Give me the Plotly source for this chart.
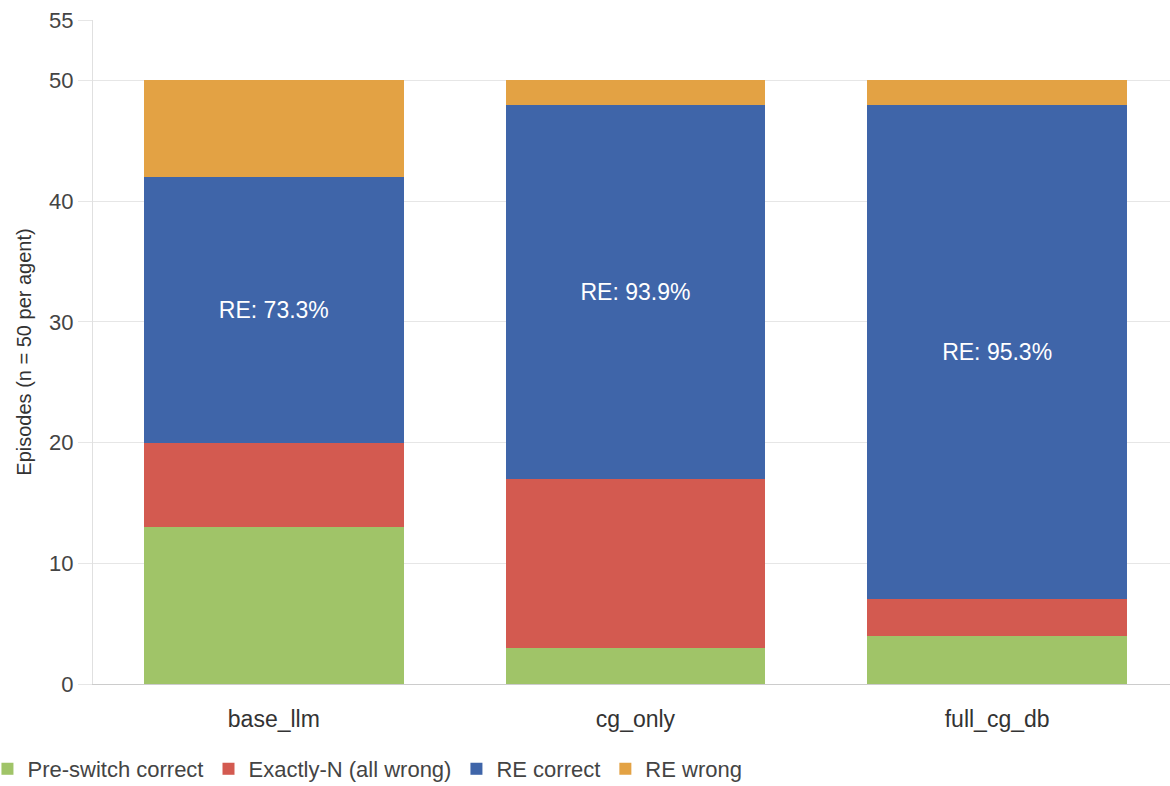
import plotly.graph_objects as go

categories = ["base_llm", "cg_only", "full_cg_db"]
pre_switch = [13, 3, 4]
exactly_n = [7, 14, 3]
re_correct = [22, 31, 41]
re_wrong = [8, 2, 2]
re_labels = ["RE: 73.3%", "RE: 93.9%", "RE: 95.3%"]
y_ticks = [0, 10, 20, 30, 40, 50, 55]

colors = {
    "Pre-switch correct": "#a0c468",
    "Exactly-N (all wrong)": "#d35a50",
    "RE correct": "#3f65a9",
    "RE wrong": "#e3a244",
}
FONT = "Liberation Sans, Arial, Helvetica, sans-serif"

fig = go.Figure()
fig.add_trace(go.Bar(x=categories, y=pre_switch, name="Pre-switch correct",
                     marker=dict(color=colors["Pre-switch correct"], line_width=0)))
fig.add_trace(go.Bar(x=categories, y=exactly_n, name="Exactly-N (all wrong)",
                     marker=dict(color=colors["Exactly-N (all wrong)"], line_width=0)))
fig.add_trace(go.Bar(x=categories, y=re_correct, name="RE correct",
                     marker=dict(color=colors["RE correct"], line_width=0),
                     text=re_labels, textposition="inside", insidetextanchor="middle",
                     textfont=dict(color="white", size=23, family=FONT),
                     textangle=0))
fig.add_trace(go.Bar(x=categories, y=re_wrong, name="RE wrong",
                     marker=dict(color=colors["RE wrong"], line_width=0)))

fig.update_layout(
    barmode="stack",
    bargap=0.282,
    width=1170, height=786,
    margin=dict(l=93, r=0, t=20, b=102, autoexpand=False),
    plot_bgcolor="white", paper_bgcolor="white",
    font=dict(family=FONT, color="#444", size=22),
    showlegend=True,
    legend=dict(orientation="h", x=-0.098, xanchor="left", y=-0.128, yanchor="middle",
                font=dict(size=22, color="#444"), traceorder="normal",
                itemwidth=30, tracegroupgap=0),
    uniformtext=dict(mode=False),
)
fig.update_yaxes(
    range=[0, 55], tickvals=y_ticks, showgrid=True, gridcolor="#e6e6e6", gridwidth=1,
    zeroline=False, showline=True, linecolor="#e0e0e0", ticks="outside", ticklen=14,
    tickcolor="#e6e6e6", tickfont=dict(size=22, color="#444"), automargin=False,
    title=dict(text="Episodes (n = 50 per agent)", font=dict(size=20, color="#333"), standoff=12),
)
fig.update_xaxes(
    range=[-0.5, 2.478],
    showline=True, linecolor="#cccccc", ticks="", tickfont=dict(size=23, color="#333"),
    ticklabelstandoff=14, automargin=False,
)

fig.write_html("out.html")
